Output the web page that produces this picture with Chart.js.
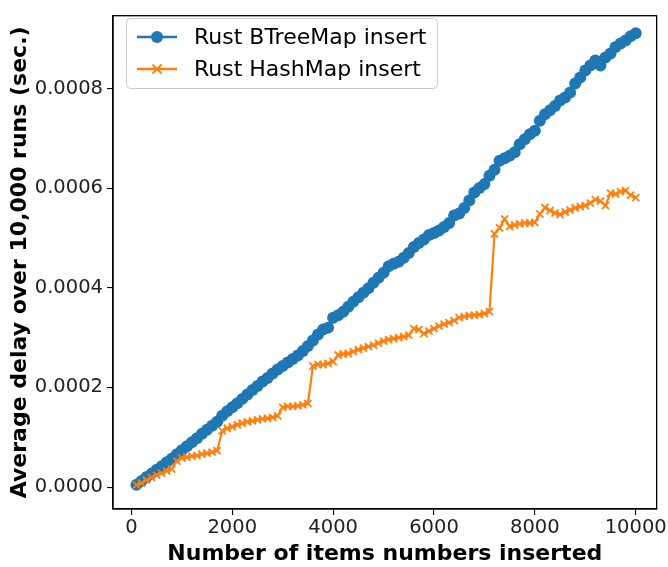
<!DOCTYPE html>
<html>
<head>
<meta charset="utf-8">
<script src="https://cdn.jsdelivr.net/npm/chart.js@4"></script>
<style>
  html, body { margin: 0; padding: 0; background: #fff; }
  #wrap { width: 668px; height: 567px; }
</style>
</head>
<body>
<div id="wrap"><canvas id="insertChart" width="668" height="567"></canvas></div>
<script>
// items inserted (x)
const itemCounts = [
  100, 200, 300, 400, 500, 600, 700, 800, 900, 1000,
  1100, 1200, 1300, 1400, 1500, 1600, 1700, 1800, 1900, 2000,
  2100, 2200, 2300, 2400, 2500, 2600, 2700, 2800, 2900, 3000,
  3100, 3200, 3300, 3400, 3500, 3600, 3700, 3800, 3900, 4000,
  4100, 4200, 4300, 4400, 4500, 4600, 4700, 4800, 4900, 5000,
  5100, 5200, 5300, 5400, 5500, 5600, 5700, 5800, 5900, 6000,
  6100, 6200, 6300, 6400, 6500, 6600, 6700, 6800, 6900, 7000,
  7100, 7200, 7300, 7400, 7500, 7600, 7700, 7800, 7900, 8000,
  8100, 8200, 8300, 8400, 8500, 8600, 8700, 8800, 8900, 9000,
  9100, 9200, 9300, 9400, 9500, 9600, 9700, 9800, 9900, 10000
];

// BTreeMap average delay (sec.)
const btreeDelay = [
  0.0000045, 0.000012, 0.000020, 0.000027, 0.000035, 0.000042, 0.000050, 0.000057, 0.000066, 0.000074,
  0.000082, 0.000090, 0.000098, 0.000107, 0.000115, 0.000123, 0.000131, 0.000143, 0.000152, 0.000160,
  0.000168, 0.000177, 0.000186, 0.000195, 0.000203, 0.000212, 0.000219, 0.000228, 0.000236, 0.000243,
  0.000250, 0.000257, 0.000264, 0.000273, 0.000283, 0.000294, 0.000306, 0.000316, 0.000320, 0.000340,
  0.000345, 0.000352, 0.000362, 0.000372, 0.000381, 0.000390, 0.000399, 0.000410, 0.000420, 0.000430,
  0.000443, 0.000448, 0.000452, 0.000460, 0.000470, 0.000482, 0.000490, 0.000497, 0.000506, 0.000510,
  0.000515, 0.000522, 0.000530, 0.000545, 0.000549, 0.000560, 0.000575, 0.000591, 0.000600, 0.000608,
  0.000625, 0.000637, 0.000655, 0.000660, 0.000665, 0.000672, 0.000688, 0.000698, 0.000708, 0.000715,
  0.000735, 0.000748, 0.000756, 0.000765, 0.000776, 0.000782, 0.000792, 0.000810, 0.000822, 0.000836,
  0.000846, 0.000856, 0.000846, 0.000862, 0.000870, 0.000883, 0.000890, 0.000896, 0.000905, 0.000911
];

// HashMap average delay (sec.)
const hashDelay = [
  0.000004, 0.000008, 0.000014, 0.000019, 0.000024, 0.000028, 0.000032, 0.000036, 0.000052, 0.000058,
  0.000060, 0.000062, 0.000063, 0.000066, 0.000068, 0.000070, 0.000073, 0.000113, 0.000118, 0.000121,
  0.000125, 0.000128, 0.000131, 0.000133, 0.000135, 0.000137, 0.000138, 0.000140, 0.000143, 0.000160,
  0.000162, 0.000162, 0.000163, 0.000165, 0.000168, 0.000243, 0.000246, 0.000246, 0.000248, 0.000252,
  0.000265, 0.000267, 0.000268, 0.000272, 0.000276, 0.000279, 0.000282, 0.000285, 0.000289, 0.000293,
  0.000296, 0.000298, 0.000300, 0.000302, 0.000305, 0.000318, 0.000316, 0.000308, 0.000313, 0.000318,
  0.000323, 0.000327, 0.000330, 0.000334, 0.000340, 0.000342, 0.000344, 0.000345, 0.000346, 0.000348,
  0.000352, 0.000508, 0.000520, 0.000538, 0.000523, 0.000526, 0.000528, 0.000530, 0.000530, 0.000531,
  0.000548, 0.000561, 0.000555, 0.000550, 0.000547, 0.000552, 0.000556, 0.000560, 0.000563, 0.000565,
  0.000570, 0.000577, 0.000574, 0.000565, 0.000590, 0.000588, 0.000593, 0.000595, 0.000586, 0.000581
];

const xTicks = [0, 2000, 4000, 6000, 8000, 10000];
const yTicks = [0, 0.0002, 0.0004, 0.0006, 0.0008];

const FONT = "'DejaVu Sans', sans-serif";
const BLUE = '#1f77b4';
const ORANGE = '#ff7f0e';

// box round the plot area (top and right edges too)
const frame = {
  id: 'frame',
  afterDatasetsDraw(chart) {
    const { ctx, chartArea: a } = chart;
    ctx.save();
    ctx.strokeStyle = '#000';
    ctx.lineWidth = 1.3;
    ctx.strokeRect(a.left, a.top, a.right - a.left, a.bottom - a.top);
    ctx.restore();
  }
};

// matplotlib style legend in the upper left corner
const boxLegend = {
  id: 'boxLegend',
  afterDraw(chart) {
    const { ctx } = chart;
    const x = 126, y = 18, w = 311, h = 70;
    ctx.save();
    ctx.fillStyle = 'rgba(255,255,255,0.8)';
    ctx.strokeStyle = '#cccccc';
    ctx.lineWidth = 1;
    ctx.beginPath();
    ctx.roundRect(x + 0.5, y + 0.5, w, h, 4);
    ctx.fill();
    ctx.stroke();

    const rows = [37, 69];
    chart.data.datasets.forEach((ds, i) => {
      const ry = rows[i];
      ctx.strokeStyle = ds.borderColor;
      ctx.lineWidth = 2.5;
      ctx.beginPath();
      ctx.moveTo(137, ry);
      ctx.lineTo(177, ry);
      ctx.stroke();
      if (ds.pointStyle === 'circle') {
        ctx.fillStyle = ds.borderColor;
        ctx.beginPath();
        ctx.arc(157, ry, 6, 0, Math.PI * 2);
        ctx.fill();
      } else {
        ctx.lineWidth = 1.8;
        ctx.beginPath();
        ctx.moveTo(152.5, ry - 4.5); ctx.lineTo(161.5, ry + 4.5);
        ctx.moveTo(152.5, ry + 4.5); ctx.lineTo(161.5, ry - 4.5);
        ctx.stroke();
      }
      ctx.fillStyle = '#000';
      ctx.font = '22px ' + FONT;
      ctx.textBaseline = 'middle';
      ctx.textAlign = 'left';
      ctx.fillText(ds.label, 194, ry + 1);
    });
    ctx.restore();
  }
};

const ctx = document.getElementById('insertChart').getContext('2d');
const insertChart = new Chart(ctx, {
  type: 'line',
  data: {
    labels: itemCounts,
    datasets: [
      {
        label: 'Rust BTreeMap insert',
        data: itemCounts.map((x, i) => ({ x: x, y: btreeDelay[i] })),
        borderColor: BLUE,
        backgroundColor: BLUE,
        borderWidth: 2.5,
        pointStyle: 'circle',
        pointRadius: 6,
        pointBorderWidth: 0,
        tension: 0,
        order: 2
      },
      {
        label: 'Rust HashMap insert',
        data: itemCounts.map((x, i) => ({ x: x, y: hashDelay[i] })),
        borderColor: ORANGE,
        backgroundColor: ORANGE,
        borderWidth: 2.2,
        pointStyle: 'crossRot',
        pointRadius: 5,
        pointBorderWidth: 1.8,
        tension: 0,
        order: 1
      }
    ]
  },
  options: {
    responsive: false,
    animation: false,
    events: [],
    layout: { padding: { left: 0, right: 7, top: 12, bottom: 0 } },
    plugins: {
      legend: { display: false },
      tooltip: { enabled: false }
    },
    scales: {
      x: {
        type: 'linear',
        min: -365,
        max: 10415,
        afterBuildTicks: (s) => { s.ticks = xTicks.map(v => ({ value: v })); },
        afterFit: (s) => { s.height = 58; },
        grid: { display: true, drawOnChartArea: false, drawTicks: true, tickLength: 6, color: '#000', lineWidth: 1.1 },
        border: { display: true, color: '#000', width: 1.3 },
        ticks: {
          color: '#222',
          font: { family: FONT, size: 19.5 },
          padding: 1,
          maxRotation: 0,
          callback: (v) => String(v)
        },
        title: {
          display: true,
          text: 'Number of items numbers inserted',
          color: '#000',
          font: { family: FONT, size: 22, weight: 'bold' },
          padding: { top: 0, bottom: 0 }
        }
      },
      y: {
        type: 'linear',
        min: -0.000044,
        max: 0.000946,
        afterBuildTicks: (s) => { s.ticks = yTicks.map(v => ({ value: v })); },
        afterFit: (s) => { s.width = 113; },
        grid: { display: true, drawOnChartArea: false, drawTicks: true, tickLength: 6, color: '#000', lineWidth: 1.1 },
        border: { display: true, color: '#000', width: 1.3 },
        ticks: {
          color: '#222',
          font: { family: FONT, size: 19.5 },
          padding: 4,
          callback: (v) => v.toFixed(4)
        },
        title: {
          display: true,
          text: 'Average delay over 10,000 runs (sec.)',
          color: '#000',
          font: { family: FONT, size: 22, weight: 'bold' },
          padding: { top: 7, bottom: 0 }
        }
      }
    }
  },
  plugins: [frame, boxLegend]
});
</script>
</body>
</html>
